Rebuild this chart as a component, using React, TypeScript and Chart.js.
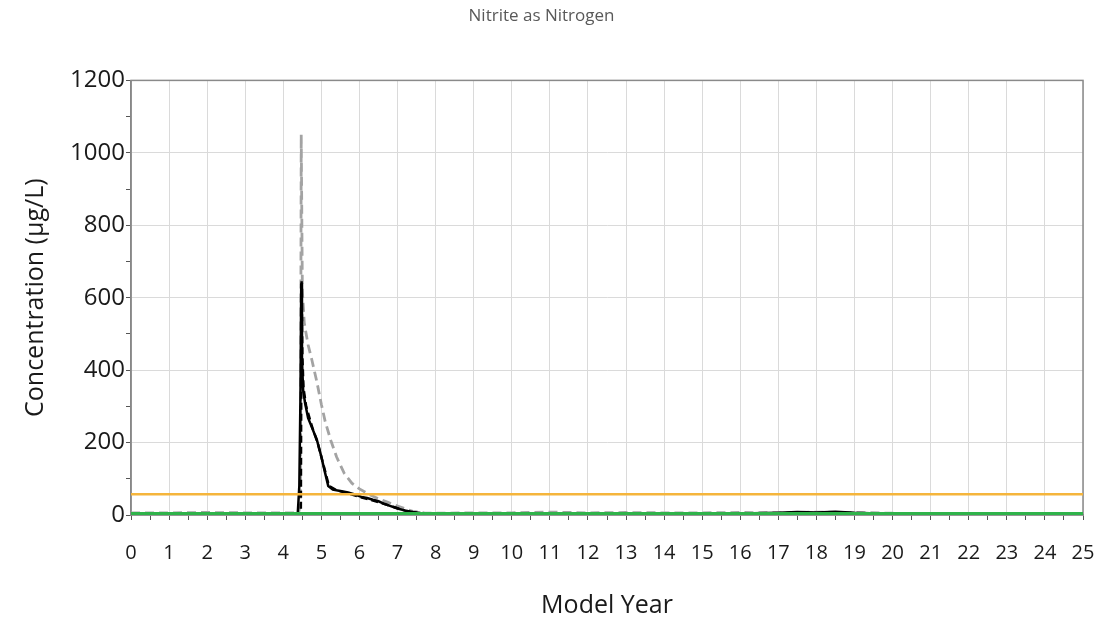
import React, { useEffect, useRef } from "react";
import { Chart, registerables } from "chart.js";

Chart.register(...registerables);

const chartTitle = "Nitrite as Nitrogen";
const xAxisTitle = "Model Year";
const yAxisTitle = "Concentration (µg/L)";

const solidYears = [0, 1, 2, 3, 4, 4.3, 4.38, 4.42, 4.45, 4.47, 4.49, 4.52, 4.57, 4.65, 4.75, 4.88, 5.0, 5.1, 5.18, 5.3, 5.5, 5.7, 5.9, 6.05, 6.2, 6.35, 6.5, 6.65, 6.8, 7.0, 7.2, 7.4, 7.6, 7.9, 8.5, 10, 12, 14, 16, 17, 17.5, 18, 18.5, 19, 20, 22, 25];
const solidValues = [2, 2, 2, 2, 2, 2, 6, 80, 330, 640, 430, 345, 310, 268, 242, 208, 160, 115, 80, 70, 66, 62, 56, 50, 47, 42, 38, 31, 25, 18, 12, 8, 5, 4, 3, 3, 3, 3, 4, 6, 8, 7, 9, 6, 3, 2, 2];

const grayYears = [0, 1, 2, 3, 4, 4.4, 4.45, 4.47, 4.5, 4.55, 4.65, 4.75, 4.88, 5.0, 5.1, 5.25, 5.4, 5.6, 5.8, 6.0, 6.25, 6.5, 6.75, 7.0, 7.2, 7.4, 7.7, 8, 9, 10, 11, 12, 13, 14, 15, 16, 17, 18, 19, 20, 21, 22, 23, 24, 25];
const grayValues = [6, 6, 7, 6, 6, 6, 30, 1050, 620, 530, 470, 428, 368, 305, 258, 205, 160, 115, 88, 72, 57, 45, 35, 25, 17, 10, 6, 5, 6, 6, 8, 6, 7, 6, 6, 7, 6, 8, 7, 5, 3, 2, 2, 2, 2];

const dashYears = [0, 2, 4, 4.46, 4.48, 4.5, 4.53, 4.6, 4.75, 4.9, 5.05, 5.2, 5.4, 5.7, 6.0, 6.3, 6.6, 6.9, 7.2, 7.5, 8, 10, 15, 20, 22, 25];
const dashValues = [0, 0, 0, 0, 650, 440, 350, 300, 245, 200, 140, 80, 68, 60, 50, 42, 32, 22, 12, 6, 3, 2, 1, 0, 0, 0];

const limitYears = [0, 25];
const orangeLimit = [57, 57];
const greenLimit = [4, 4];

const xTickStep = 0.5;
const yTickStep = 100;

const pts = (xs: number[], ys: number[]) => xs.map((x, i) => ({ x, y: ys[i] }));

const FONT = "'Open Sans', 'Noto Sans', sans-serif";

const borderPlugin = {
  id: "plotBorder",
  beforeDatasetsDraw(chart: any) {
    const { ctx, chartArea } = chart;
    ctx.save();
    ctx.strokeStyle = "#8a8a8a";
    ctx.lineWidth = 1.5;
    ctx.strokeRect(chartArea.left, chartArea.top, chartArea.right - chartArea.left, chartArea.bottom - chartArea.top);
    ctx.restore();
  },
};

export default function App() {
  const ref = useRef<HTMLCanvasElement | null>(null);
  useEffect(() => {
    document.body.style.margin = "0";
    if (!ref.current) return;
    const chart = new Chart(ref.current, {
      type: "line",
      data: {
        datasets: [
          { data: pts(limitYears, greenLimit), borderColor: "#2fb34a", borderWidth: 3 },
          { data: pts(limitYears, orangeLimit), borderColor: "#f5b53c", borderWidth: 2.5 },
          { data: pts(solidYears, solidValues), borderColor: "#000000", borderWidth: 2.5 },
          { data: pts(dashYears, dashValues), borderColor: "#000000", borderWidth: 2.5, borderDash: [7, 4] },
          { data: pts(grayYears, grayValues), borderColor: "#a3a3a3", borderWidth: 2.8, borderDash: [9, 5] },
        ].map((d) => ({ ...d, pointRadius: 0, tension: 0, fill: false })),
      },
      options: {
        animation: false,
        responsive: true,
        maintainAspectRatio: false,
        layout: { padding: { left: 0, right: 24, top: 0, bottom: 0 } },
        plugins: {
          legend: { display: false },
          tooltip: { enabled: false },
          title: {
            display: true,
            text: chartTitle,
            color: "#595959",
            font: { family: FONT, size: 17, weight: "normal" },
            padding: { top: 6, bottom: 54 },
          },
        },
        scales: {
          x: {
            type: "linear",
            min: 0,
            max: 25,
            afterFit(scale: any) {
              scale.height = 110;
              scale.paddingLeft = 0;
              scale.paddingRight = 0;
            },
            ticks: {
              stepSize: xTickStep,
              autoSkip: false,
              maxRotation: 0,
              color: "#1a1a1a",
              font: { family: FONT, size: 20 },
              padding: 21,
              callback: (v: any) => (Number(v) % 1 === 0 ? String(v) : ""),
            },
            grid: {
              color: (c: any) => (c.tick && c.tick.value % 1 === 0 ? "#dadada" : "rgba(0,0,0,0)"),
              tickColor: "#555555",
              tickLength: 5,
            },
            border: { color: "#7f7f7f", width: 1.5 },
            title: {
              display: true,
              text: xAxisTitle,
              color: "#1a1a1a",
              font: { family: FONT, size: 25 },
              padding: { top: 0, bottom: 4 },
            },
          },
          y: {
            min: 0,
            max: 1200,
            afterFit(scale: any) { scale.width = 131; },
            ticks: {
              stepSize: yTickStep,
              autoSkip: false,
              color: "#1a1a1a",
              font: { family: FONT, size: 24 },
              padding: 1,
              callback: (v: any) => (Number(v) % 200 === 0 ? String(v) : ""),
            },
            grid: {
              color: (c: any) => (c.tick && c.tick.value % 200 === 0 && c.tick.value !== 0 ? "#dadada" : "rgba(0,0,0,0)"),
              tickColor: "#555555",
              tickLength: 5,
            },
            border: { color: "#7f7f7f", width: 1.5 },
            title: {
              display: true,
              text: yAxisTitle,
              color: "#1a1a1a",
              font: { family: FONT, size: 25 },
              padding: { top: 21, bottom: 0 },
            },
          },
        },
      } as any,
      plugins: [borderPlugin],
    });
    return () => chart.destroy();
  }, []);
  return (
    <div style={{ position: "relative", width: 1107, height: 625 }}>
      <canvas ref={ref} />
    </div>
  );
}
